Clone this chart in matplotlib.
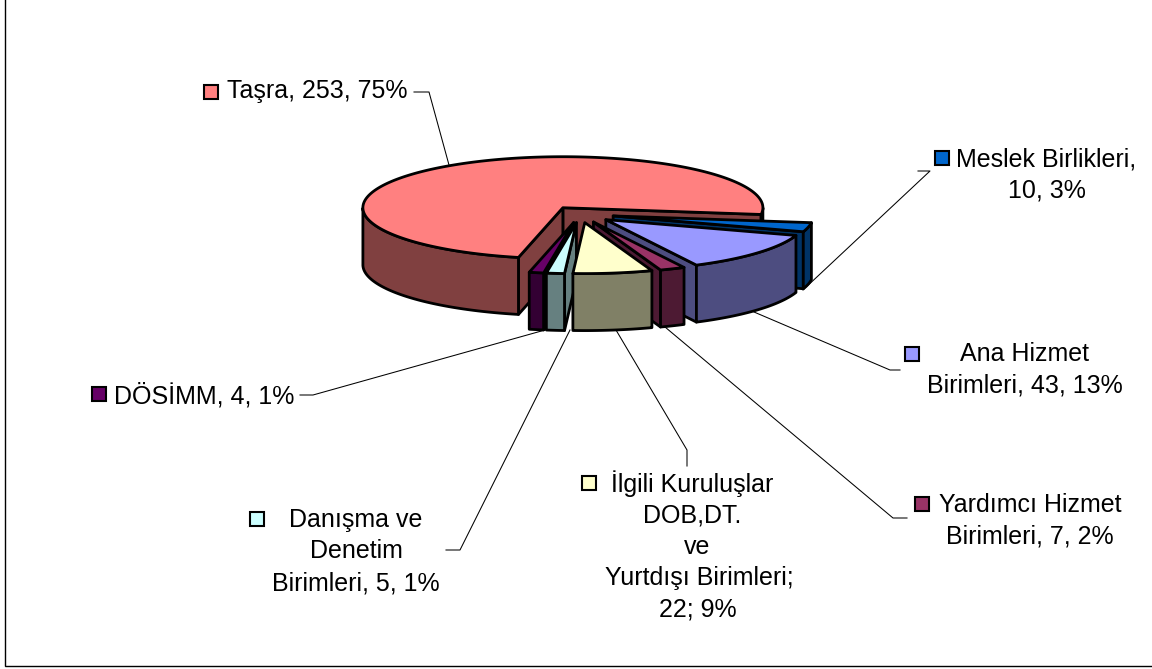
import numpy as np
import matplotlib
matplotlib.use("Agg")
import matplotlib.pyplot as plt
from matplotlib.patches import Polygon, Rectangle

plt.rcParams["font.family"] = ["Liberation Sans", "DejaVu Sans"]

# order is counter clockwise, starting at the right edge of the big slice
categories = ["Taşra", "DÖSİMM", "Danışma ve Denetim Birimleri", "İlgili Kuruluşlar",
              "Yardımcı Hizmet Birimleri", "Ana Hizmet Birimleri", "Meslek Birlikleri"]
values = [253, 4, 5, 22, 7, 43, 10]
top_colors = ["#FF8080", "#660066", "#CCFFFF", "#FFFFCC", "#993366", "#9999FF", "#0066CC"]
side_colors = ["#804040", "#330033", "#668080", "#808066", "#4D1A33", "#4D4D80", "#003366"]
explode = [0.15, 0.17, 0.17, 0.17, 0.17, 0.17, 0.17]

label_lines = [
    ["Taşra, 253, 75%"],
    ["DÖSİMM, 4, 1%"],
    ["Danışma ve", "Denetim", "Birimleri, 5, 1%"],
    ["İlgili Kuruluşlar", "DOB,DT.", "ve", "Yurtdışı Birimleri;", "22; 9%"],
    ["Yardımcı Hizmet", "Birimleri, 7, 2%"],
    ["Ana Hizmet", "Birimleri, 43, 13%"],
    ["Meslek Birlikleri,", "10, 3%"],
]
# text centre x for each line, first line y
label_x = [[317], [204], [356, 356, 356], [692, 692, 697, 699, 698], [1030, 1030], [1025, 1025], [1046, 1047]]
label_y = [91, 396, 520, 484, 505, 354, 159]
key_xy = [(204, 85), (92, 387), (250, 512), (582, 476), (915, 497), (905, 347), (935, 151)]

leaders = [
    [(414, 92), (429, 92), (449, 165)],
    [(300, 395), (313, 395), (545, 330)],
    [(446, 550), (460, 550), (570, 330)],
    [(616, 330), (687, 450), (687, 466)],
    [(665, 327), (893, 518), (907, 518)],
    [(754, 312), (890, 370), (900, 370)],
    [(918, 171), (930, 171), (803, 290)],
]

cx, cy = 580, 214
rx, ry = 200, 51
depth = 57
start_angle = -7.6
edge = 2.0

fig = plt.figure(figsize=(11.52, 6.69), dpi=100)
ax = fig.add_axes([0, 0, 1, 1])
ax.set_xlim(0, 1152)
ax.set_ylim(669, 0)
ax.axis("off")

ax.add_patch(Rectangle((5, -5), 1160, 670.5, fc="white", ec="black", lw=1.0))

for pts in leaders:
    xs, ys = zip(*pts)
    ax.plot(xs, ys, color="black", lw=0.75, zorder=1)


def face(pts, color, z):
    ax.add_patch(Polygon(pts, closed=True, fc=color, ec="black", lw=edge, joinstyle="round", zorder=z))


sweeps = np.array(values) / sum(values) * 360
starts = start_angle + np.concatenate([[0], np.cumsum(sweeps)[:-1]])

# back to front
draw_order = [0, 6, 5, 4, 1, 2, 3]
for z, i in enumerate(draw_order):
    a0, a1 = starts[i], starts[i] + sweeps[i]
    mid = np.radians((a0 + a1) / 2)
    ox = cx + explode[i] * rx * np.cos(mid)
    oy = cy - explode[i] * ry * np.sin(mid)
    t = np.radians(np.linspace(a0, a1, max(int(sweeps[i] * 2), 8)))
    arc = np.column_stack([ox + rx * np.cos(t), oy - ry * np.sin(t)])
    apex = np.array([ox, oy])
    down = np.array([0, depth])
    base_z = 5 + z * 0.1

    # cut faces that turn toward the viewer
    if np.cos(t[0]) > 0:
        face([apex, arc[0], arc[0] + down, apex + down], side_colors[i], base_z)
    if np.cos(t[-1]) < 0:
        face([apex, arc[-1], arc[-1] + down, apex + down], side_colors[i], base_z)

    # outer wall, only the front part of the rim, one polygon per run
    front = np.sin(t) <= 0
    runs = np.split(np.arange(len(t)), np.where(np.diff(front))[0] + 1)
    for run in runs:
        if front[run[0]] and len(run) > 1:
            rim = arc[run]
            face(np.vstack([rim, (rim + down)[::-1]]), side_colors[i], base_z + 0.01)

    face(np.vstack([apex, arc]), top_colors[i], base_z + 0.02)

line_step = 31.5
for i, lines in enumerate(label_lines):
    for k, line in enumerate(lines):
        ax.text(label_x[i][k], label_y[i] + k * line_step, line, fontsize=18,
                ha="center", va="center", color="black", zorder=20)
    ax.add_patch(Rectangle(key_xy[i], 14, 14, fc=top_colors[i], ec="black", lw=1.5, zorder=20))

fig.savefig("out.png", dpi=100)
